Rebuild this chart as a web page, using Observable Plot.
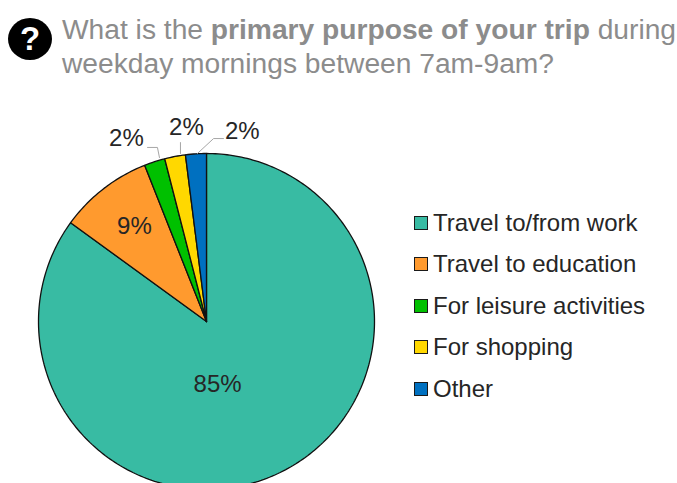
<!DOCTYPE html>
<html>
<head>
<meta charset="utf-8">
<script src="https://cdn.jsdelivr.net/npm/d3@7"></script>
<script src="https://cdn.jsdelivr.net/npm/@observablehq/plot@0.6"></script>
<style>
  html, body { margin: 0; padding: 0; background: #fff; }
  #page { position: relative; width: 677px; height: 483px; overflow: hidden; font-family: "Liberation Sans", Arial, sans-serif; }
  #chart { position: absolute; left: 0; top: 0; }
  #badge { position: absolute; left: 8px; top: 18px; width: 44px; height: 42px; border-radius: 50%; background: #000; color: #fff;
           font-size: 33px; font-weight: 700; line-height: 42px; text-align: center; }
  #title { position: absolute; left: 62px; top: 12px; width: 620px; font-size: 28.2px; line-height: 34px; color: #8c8c8c; white-space: nowrap; }
  #legend { position: absolute; left: 414px; top: 202px; }
  .row { display: flex; align-items: center; height: 41.5px; font-size: 24px; color: #262626; white-space: nowrap; }
  .swatch { width: 12px; height: 12px; border: 1px solid #1a1a1a; margin-right: 5px; flex: none; }
</style>
</head>
<body>
<div id="page">
  <div id="chart"></div>
  <div id="badge">?</div>
  <div id="title">What is the <b>primary purpose of your trip</b> during<br>weekday mornings between 7am-9am?</div>
  <div id="legend"></div>
</div>
<script>
// Survey answers, in clockwise slice order from twelve o'clock.
const purposes = ["Travel to/from work", "Travel to education", "For leisure activities", "For shopping", "Other"];
const shares = [85, 9, 2, 2, 2];
const colors = ["#38bba3", "#ff9a2e", "#00c000", "#ffd800", "#0070c0"];

// Label placement around the pie: bearing in degrees clockwise from north, radius in pie radii.
const labelBearing = [170, 322.8, 336.4, 354.1, 10.7];
const labelRadius = [0.38, 0.71, 1.19, 1.16, 1.15];

// Leader lines for the three small slices, in pie radii.
const leaderLines = [
  [[-0.28, 0.976], [-0.292, 1.036], [-0.351, 1.036]],
  [[-0.155, 1.0], [-0.155, 1.065]],
  [[-0.054, 1.0], [0.042, 1.089], [0.101, 1.089]]
];

const W = 677, H = 483, R = 168, CX = 206, CY = 321;
const polar = (deg, r) => [r * Math.sin(deg * Math.PI / 180), r * Math.cos(deg * Math.PI / 180)];

// Each slice becomes a closed outline: centre, arc in 1° steps, centre.
const total = d3.sum(shares);
let running = 0;
const wedges = shares.flatMap((share, i) => {
  const start = running / total * 360;
  running += share;
  const end = running / total * 360;
  const steps = Math.max(2, Math.ceil(end - start));
  const arc = d3.range(steps + 1).map(k => polar(start + (end - start) * k / steps, 1));
  return [[0, 0], ...arc, [0, 0]].map(([x, y]) => ({x, y, purpose: purposes[i]}));
});

const labels = shares.map((share, i) => {
  const [x, y] = polar(labelBearing[i], labelRadius[i]);
  return {x, y, text: `${share}%`};
});

const leaders = leaderLines.flatMap((points, id) => points.map(([x, y]) => ({x, y, id})));

const plot = Plot.plot({
  width: W,
  height: H,
  margin: 0,
  x: {domain: [-CX / R, (W - CX) / R], axis: null},
  y: {domain: [-(H - CY) / R, CY / R], axis: null},
  color: {domain: purposes, range: colors},
  style: {background: "transparent", fontFamily: "'Liberation Sans', Arial, sans-serif"},
  marks: [
    Plot.line(wedges, {x: "x", y: "y", z: "purpose", fill: "purpose", stroke: "#111", strokeWidth: 1.3, strokeLinejoin: "miter"}),
    Plot.line(leaders, {x: "x", y: "y", z: "id", stroke: "#a6a6a6", strokeWidth: 1}),
    Plot.text(labels, {x: "x", y: "y", text: "text", fontSize: 24, fill: "#262626"})
  ]
});
document.getElementById("chart").append(plot);

// Legend rows share the slice colours.
d3.select("#legend").selectAll("div").data(purposes).join("div").attr("class", "row")
  .html((d, i) => `<span class="swatch" style="background:${colors[i]}"></span>${d}`);
</script>
</body>
</html>
